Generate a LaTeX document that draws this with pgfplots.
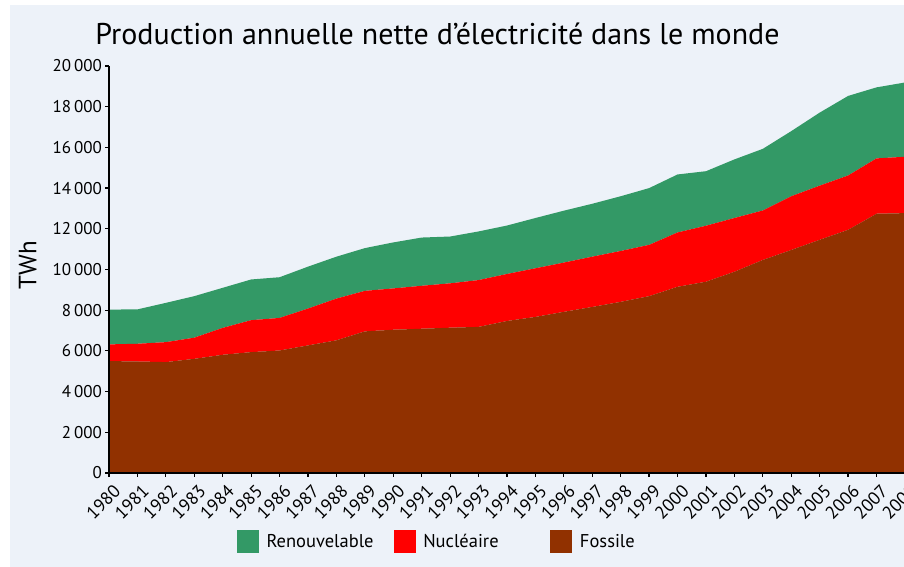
\documentclass[border=0pt]{standalone}
\usepackage{fontspec}
\setmainfont{PT Sans}
\usepackage{pgfplots}
\usepackage{pgfplotstable}
\pgfplotsset{compat=1.18}
\definecolor{bg}{RGB}{237,242,249}
\definecolor{renouv}{RGB}{51,153,102}
\definecolor{nucl}{RGB}{255,0,0}
\definecolor{foss}{RGB}{145,49,0}

\pgfplotstableread{
year fossile nucleaire renouv
1980 5500 820 1710
1981 5480 870 1690
1982 5450 980 1930
1983 5610 1040 2040
1984 5810 1320 1970
1985 5940 1570 2000
1986 6020 1600 2000
1987 6270 1810 2060
1988 6520 2050 2060
1989 6960 1990 2100
1990 7040 2030 2260
1991 7090 2110 2370
1992 7140 2180 2300
1993 7180 2300 2390
1994 7470 2310 2380
1995 7670 2390 2470
1996 7920 2420 2550
1997 8160 2470 2600
1998 8410 2500 2690
1999 8690 2520 2790
2000 9150 2670 2850
2001 9400 2750 2680
2002 9890 2640 2880
2003 10470 2430 3030
2004 10960 2640 3200
2005 11460 2660 3590
2006 11950 2670 3910
2007 12740 2720 3490
2008 12770 2770 3650
}\datatable

\begin{document}
\begin{tikzpicture}[x=1pt,y=1pt]
\fill[white] (0,0) rectangle (904,567);
\fill[bg] (10,0) rectangle (904,562);
\path[use as bounding box] (0,0) rectangle (904,567);
\node[anchor=base, font=\fontsize{30}{36}\selectfont] at (437.5,522) {Production annuelle nette d’électricité dans le monde};
\begin{axis}[
  at={(109pt,94pt)}, anchor=south west,
  scale only axis, width=796pt, height=407pt,
  xmin=1980, xmax=2008, ymin=0, ymax=20000,
  axis x line=bottom, axis y line=left,
  axis line style={-, line width=1.6pt, black},
  axis on top=true,
  xtick={1980,...,2008}, ytick={0,2000,...,20000},
  scaled y ticks=false, scaled x ticks=false,
  tick style={black, line width=1.2pt},
  major tick length=4pt, tick align=outside,
  /pgf/number format/assume math mode=true,
  x tick label style={rotate=45, anchor=north east, font=\fontsize{18}{20}\selectfont, /pgf/number format/1000 sep={}, inner sep=1pt, yshift=-6pt, xshift=-1pt},
  y tick label style={font=\fontsize{17}{20}\selectfont, /pgf/number format/1000 sep={\,}, inner sep=3pt},
  ylabel={TWh},
  every axis y label/.style={at={(axis description cs:-0.102,0.51)}, rotate=90, anchor=center, font=\fontsize{25}{30}\selectfont},
  stack plots=y,
  reverse legend,
  legend columns=3,
  legend cell align=left,
  legend image code/.code={\fill[#1, draw=none] (0pt,-11.5pt) rectangle (22pt,11.5pt); \path (29.7pt,0pt);},
  legend style={at={(axis description cs:0.1604,-0.1695)}, anchor=west, draw=none, fill=none, inner sep=0pt, column sep=0pt,
    nodes={inner xsep=0pt, text width=127pt, align=left, font=\fontsize{18.5}{22}\selectfont}},
]
\addplot[fill=foss, draw=none] table[x=year, y=fossile] {\datatable} \closedcycle;
\addlegendentry{Fossile}
\addplot[fill=nucl, draw=none] table[x=year, y=nucleaire] {\datatable} \closedcycle;
\addlegendentry{Nucléaire}
\addplot[fill=renouv, draw=none] table[x=year, y=renouv] {\datatable} \closedcycle;
\addlegendentry{Renouvelable}
\end{axis}
\end{tikzpicture}
\end{document}
